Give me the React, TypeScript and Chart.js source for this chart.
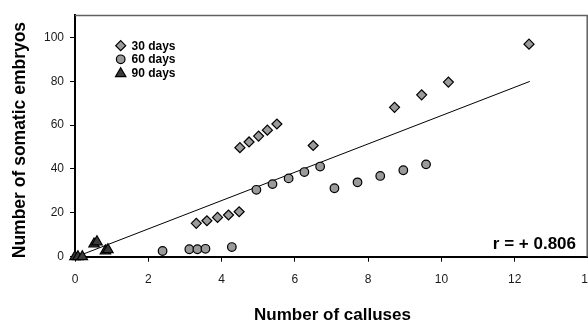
import React, { useEffect, useRef } from 'react';
import { Chart, registerables } from 'chart.js';

Chart.register(...registerables);

// ---- data ----
const seriesLabels = ['30 days', '60 days', '90 days'];

const days30X = [3.31, 3.6, 3.89, 4.19, 4.48, 4.5, 4.75, 5.01, 5.25, 5.51, 6.5, 8.72, 9.46, 10.19, 12.39];
const days30Y = [15.2, 16.4, 17.9, 19.0, 20.5, 49.7, 52.3, 55.0, 57.7, 60.5, 50.7, 68.1, 73.8, 79.6, 96.9];

const days60X = [2.39, 3.12, 3.34, 3.56, 4.28, 4.95, 5.39, 5.83, 6.26, 6.69, 7.08, 7.71, 8.33, 8.96, 9.58];
const days60Y = [2.6, 3.4, 3.4, 3.6, 4.4, 30.5, 33.1, 35.7, 38.6, 41.1, 31.2, 33.9, 36.8, 39.4, 42.1];

const days90X = [0, 0.08, 0.2, 0.52, 0.6, 0.83, 0.9];
const days90Y = [0, 0, 0, 5.8, 6.8, 2.6, 3.2];

const trendX = [0.04, 12.41];
const trendY = [0, 79.9];

const xMin = 0;
const xMax = 14;
const xStep = 2;
const yMin = 0;
const yMax = 110;
const yStep = 20;

const xTitle = 'Number of calluses';
const yTitle = 'Number of somatic embryos';
const correlationText = 'r = + 0.806';

const FONT = '"Liberation Sans", Arial, sans-serif';
const FILL_LIGHT = '#9a9a9a';
const FILL_DARK = '#3a3a3a';

function pairs(xs: number[], ys: number[]) {
  return xs.map((x, i) => ({ x, y: ys[i] }));
}

function drawSymbol(ctx: CanvasRenderingContext2D, kind: string, x: number, y: number, fill: string) {
  ctx.save();
  ctx.beginPath();
  if (kind === 'diamond') {
    const r = 5;
    ctx.moveTo(x, y - r);
    ctx.lineTo(x + r, y);
    ctx.lineTo(x, y + r);
    ctx.lineTo(x - r, y);
    ctx.closePath();
  } else if (kind === 'circle') {
    ctx.arc(x, y, 4.3, 0, Math.PI * 2);
  } else {
    const r = 6;
    for (let k = 0; k < 3; k++) {
      const a = (k * 2 * Math.PI) / 3;
      const px = x + Math.sin(a) * r;
      const py = y - Math.cos(a) * r;
      if (k === 0) ctx.moveTo(px, py);
      else ctx.lineTo(px, py);
    }
    ctx.closePath();
  }
  ctx.fillStyle = fill;
  ctx.fill();
  ctx.lineWidth = 1.2;
  ctx.strokeStyle = '#000';
  ctx.stroke();
  ctx.restore();
}

const decorPlugin = {
  id: 'decor',
  beforeDatasetsDraw(chart: any) {
    const { ctx, chartArea } = chart;
    ctx.save();
    ctx.strokeStyle = '#606060';
    ctx.lineWidth = 1.5;
    ctx.beginPath();
    ctx.moveTo(chartArea.left, chartArea.top);
    ctx.lineTo(chartArea.right - 0.8, chartArea.top);
    ctx.lineTo(chartArea.right - 0.8, chartArea.bottom);
    ctx.stroke();
    ctx.restore();
  },
  afterDraw(chart: any) {
    const { ctx, chartArea } = chart;
    ctx.save();
    // legend
    const kinds = ['diamond', 'circle', 'triangle'];
    const fills = [FILL_LIGHT, FILL_LIGHT, FILL_DARK];
    const rowsY = [45.7, 59.3, 72.7];
    ctx.font = `bold 12px ${FONT}`;
    ctx.textAlign = 'left';
    ctx.textBaseline = 'middle';
    seriesLabels.forEach((label, i) => {
      drawSymbol(ctx, kinds[i], 120.7, rowsY[i] + (i === 2 ? 1 : 0), fills[i]);
      ctx.fillStyle = '#000';
      ctx.fillText(label, 131.5, rowsY[i] + 0.5);
    });
    // correlation
    ctx.font = `bold 17px ${FONT}`;
    ctx.textAlign = 'right';
    ctx.textBaseline = 'alphabetic';
    ctx.fillText(correlationText, 576, 249.3);
    // x title
    ctx.textAlign = 'center';
    ctx.fillText(xTitle, (chartArea.left + chartArea.right) / 2 + 1, 320);
    // y title
    ctx.translate(25, (chartArea.top + chartArea.bottom) / 2 + 4);
    ctx.rotate(-Math.PI / 2);
    ctx.font = `bold 17.5px ${FONT}`;
    ctx.fillText(yTitle, 0, 0);
    ctx.restore();
  },
};

export default function App() {
  const ref = useRef<HTMLCanvasElement | null>(null);

  useEffect(() => {
    if (!ref.current) return;
    const chart = new Chart(ref.current, {
      type: 'scatter',
      data: {
        datasets: [
          {
            label: 'trend',
            type: 'line',
            data: pairs(trendX, trendY),
            borderColor: '#000',
            borderWidth: 1,
            pointRadius: 0,
            fill: false,
            showLine: true,
            order: 10,
            clip: false as any,
          } as any,
          {
            label: seriesLabels[0],
            data: pairs(days30X, days30Y),
            pointStyle: 'rectRot',
            pointRadius: 5,
            backgroundColor: FILL_LIGHT,
            borderColor: '#000',
            borderWidth: 1.2,
            order: 3,
            clip: false as any,
          },
          {
            label: seriesLabels[1],
            data: pairs(days60X, days60Y),
            pointStyle: 'circle',
            pointRadius: 4.3,
            backgroundColor: FILL_LIGHT,
            borderColor: '#000',
            borderWidth: 1.2,
            order: 2,
            clip: false as any,
          },
          {
            label: seriesLabels[2],
            data: pairs(days90X, days90Y),
            pointStyle: 'triangle',
            pointRadius: 6,
            backgroundColor: FILL_DARK,
            borderColor: '#000',
            borderWidth: 1.2,
            order: 1,
            clip: false as any,
          },
        ],
      },
      options: {
        animation: false,
        responsive: false,
        devicePixelRatio: 1,
        layout: { padding: { left: 0, right: 22, top: 15.4, bottom: 0 } },
        plugins: {
          legend: { display: false },
          tooltip: { enabled: false },
          title: { display: false },
        },
        scales: {
          x: {
            type: 'linear',
            min: xMin,
            max: xMax,
            ticks: {
              stepSize: xStep,
              color: '#1a1a1a',
              font: { family: FONT, size: 12 },
              padding: 11,
              maxRotation: 0,
            },
            grid: {
              display: true,
              drawOnChartArea: false,
              drawTicks: true,
              tickLength: 5,
              color: '#000',
              lineWidth: 1,
            },
            border: { display: true, color: '#000', width: 2 },
            title: { display: false },
            afterFit: (s: any) => {
              s.height = 66.3;
            },
          },
          y: {
            type: 'linear',
            min: yMin,
            max: yMax,
            ticks: {
              stepSize: yStep,
              includeBounds: false,
              color: '#1a1a1a',
              font: { family: FONT, size: 12 },
              padding: 6,
            },
            grid: {
              display: true,
              drawOnChartArea: false,
              drawTicks: true,
              tickLength: 5,
              color: '#000',
              lineWidth: 1,
            },
            border: { display: true, color: '#000', width: 2 },
            title: { display: false },
            afterFit: (s: any) => {
              s.width = 75;
            },
          },
        },
      } as any,
      plugins: [decorPlugin],
    });
    return () => chart.destroy();
  }, []);

  return (
    <div
      style={{
        position: 'fixed',
        left: 0,
        top: 0,
        width: 588,
        height: 323,
        overflow: 'hidden',
        background: '#fff',
      }}
    >
      <canvas ref={ref} width={610} height={323} style={{ width: 610, height: 323, display: 'block' }} />
    </div>
  );
}
